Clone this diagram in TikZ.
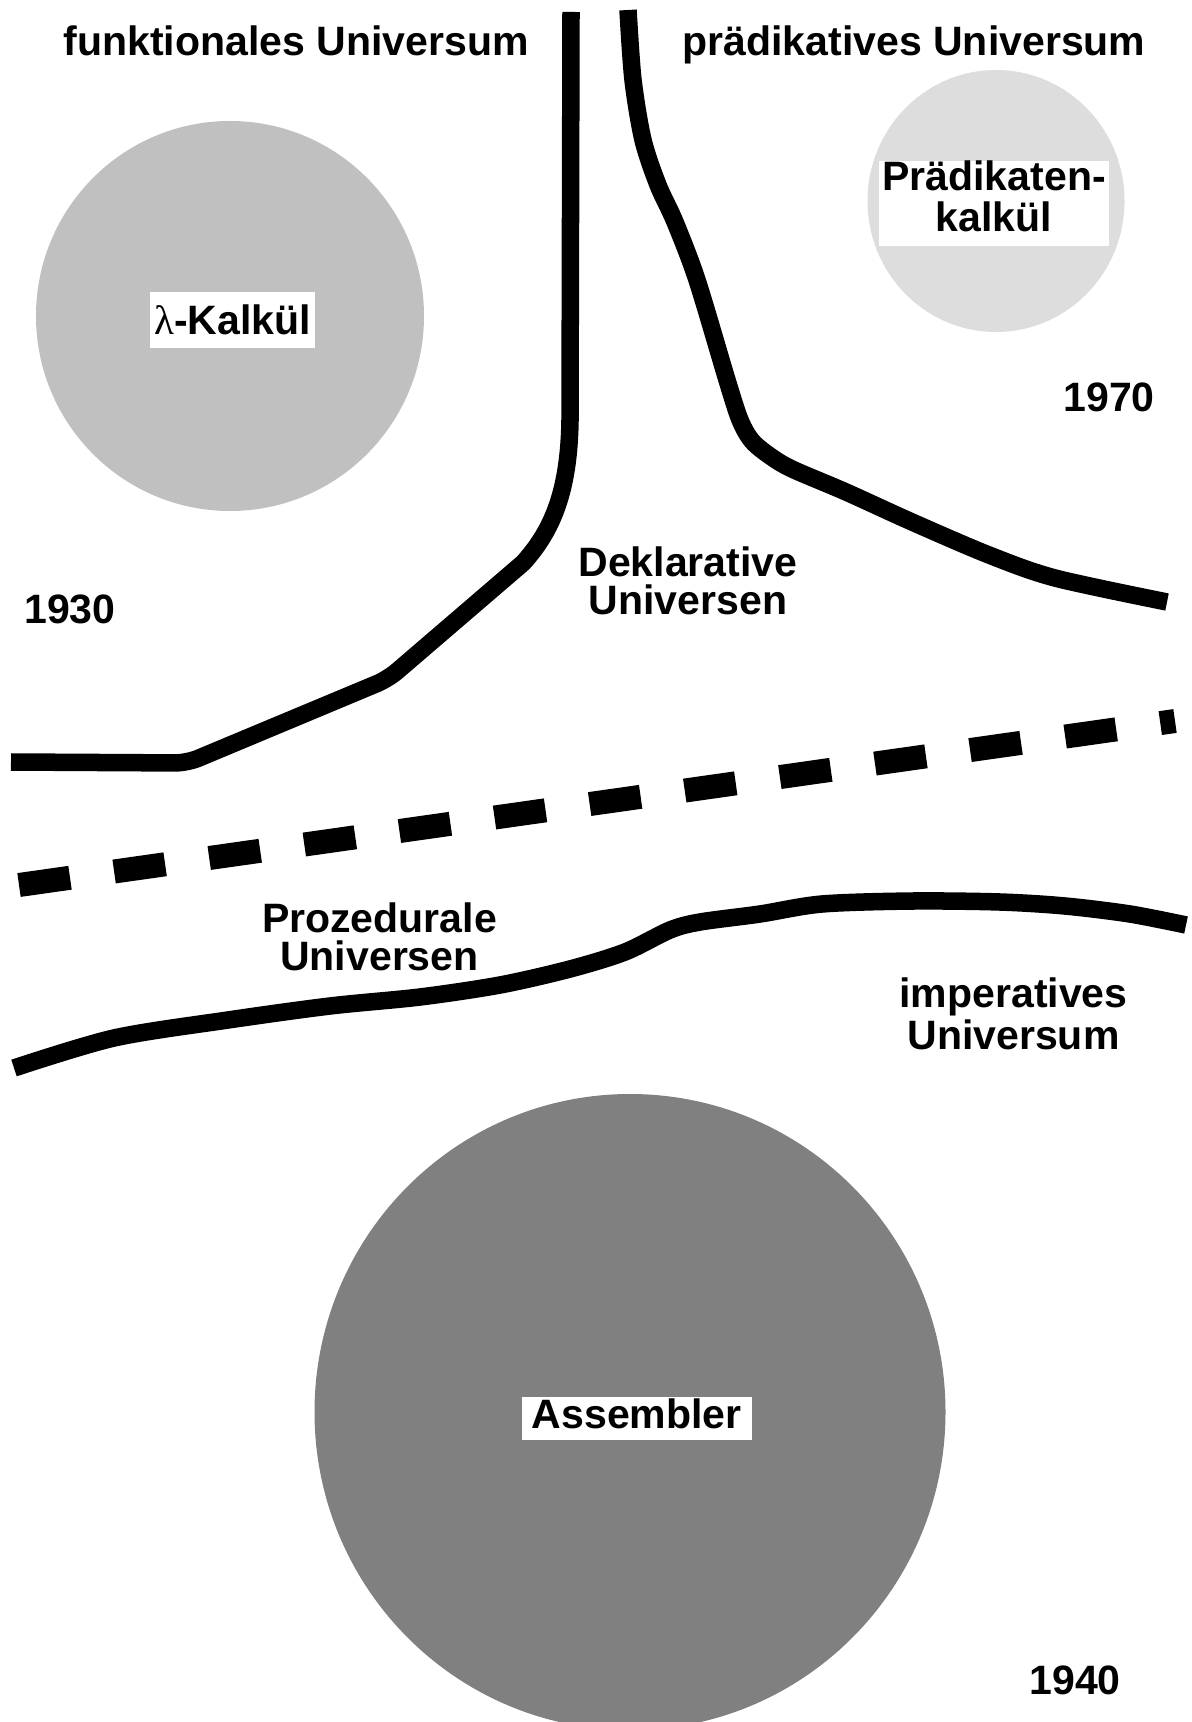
\documentclass[tikz,border=0pt]{standalone}
\usepackage{fontspec}
\setmainfont{Liberation Sans}
\newfontfamily\lamfont{Liberation Serif}
\definecolor{lamgray}{HTML}{C0C0C0}
\definecolor{praedgray}{HTML}{DDDDDD}
\definecolor{asmgray}{HTML}{808080}

\tikzset{
  lbl/.style={font=\bfseries\fontsize{11.67}{11.8}\selectfont, align=center, inner sep=0pt},
  twoline/.style={lbl, font=\bfseries\fontsize{11.67}{#1}\selectfont},
  tagbox/.style={lbl, fill=white},
  border/.style={line width=0.175cm, line cap=butt, line join=round},
  divider/.style={line width=0.24cm, dash pattern=on 0.515cm off 0.445cm}
}

\begin{document}
\begin{tikzpicture}[x=0.01cm, y=-0.01cm]

% Background
\useasboundingbox (0,0) rectangle (1192,1722);
\fill[white] (0,0) rectangle (1192,1722);

% --- Calculi (drawn BEFORE the borders) ---
\fill[lamgray] (230,316) ellipse [x radius=194, y radius=195];
\fill[praedgray] (996,201) ellipse [x radius=128.5, y radius=131];
\fill[asmgray] (630,1412) ellipse [x radius=315.5, y radius=318];

% --- Borders between the universes ---
% functional | predicative
\draw[border] (571,12) -- (570,420) .. controls (569,490) and (553,530) .. (523,563)
  [rounded corners=0.12cm] -- (388,679) -- (187,763) -- (11,762);
\draw[border] plot[smooth, tension=0.5] coordinates {
  (628,10) (633,80) (643,140) (658,185) (675,222) (697,280) (727,380)
  (740,420) (752,441) (770,456) (792,469) (846,492) (912,522)
  (989,555) (1055,578) (1167,602)};

% declarative | procedural
\draw[divider] (19,885) -- (1175,721);

% procedural | imperative
\draw[border] plot[smooth, tension=0.5] coordinates {
  (14,1068) (114,1038) (228,1020) (330,1006) (420,997) (500,985)
  (570,969) (625,952) (670,930) (700,922) (760,914) (822,904)
  (913,901) (1000,902) (1065,906) (1130,914) (1186,925)};

% --- Labels (drawn last) ---
\node[lbl, anchor=base] (funktitle) at (296,55.5) {funktionales Universum};
\node[lbl, anchor=base] (praedtitle) at (914,55.5) {prädikatives Universum};

\node[tagbox, anchor=base, inner xsep=0.04cm, text height=0.43cm, text depth=0.13cm]
  (lamlbl) at (232.5,335) {{\lamfont\mdseries λ}-Kalkül};
\node[tagbox, minimum width=2.30cm, minimum height=0.813cm]
  (praedlbl) at (994,203.4) {Prädikaten-\\kalkül\rule[-0.144cm]{0pt}{0.144cm}};
\node[tagbox, anchor=base, inner xsep=0.1cm, text height=0.316cm, text depth=0.117cm]
  (asmlbl) at (636.7,1428.3) {Assembler};

\node[twoline=10.98, anchor=center] (deklbl) at (688,580.9) {Deklarative\\Universen};
\node[twoline=10.98, anchor=center] (prozlbl) at (379.5,936.9) {Prozedurale\\Universen};
\node[twoline=11.98, anchor=center] (implbl) at (1013.5,1014) {imperatives\\Universum};

% years
\node[lbl, anchor=base] (y1930) at (70,623) {1930};
\node[lbl, anchor=base] (y1970) at (1109,412) {1970};
\node[lbl, anchor=base] (y1940) at (1075,1694) {1940};

\end{tikzpicture}
\end{document}
